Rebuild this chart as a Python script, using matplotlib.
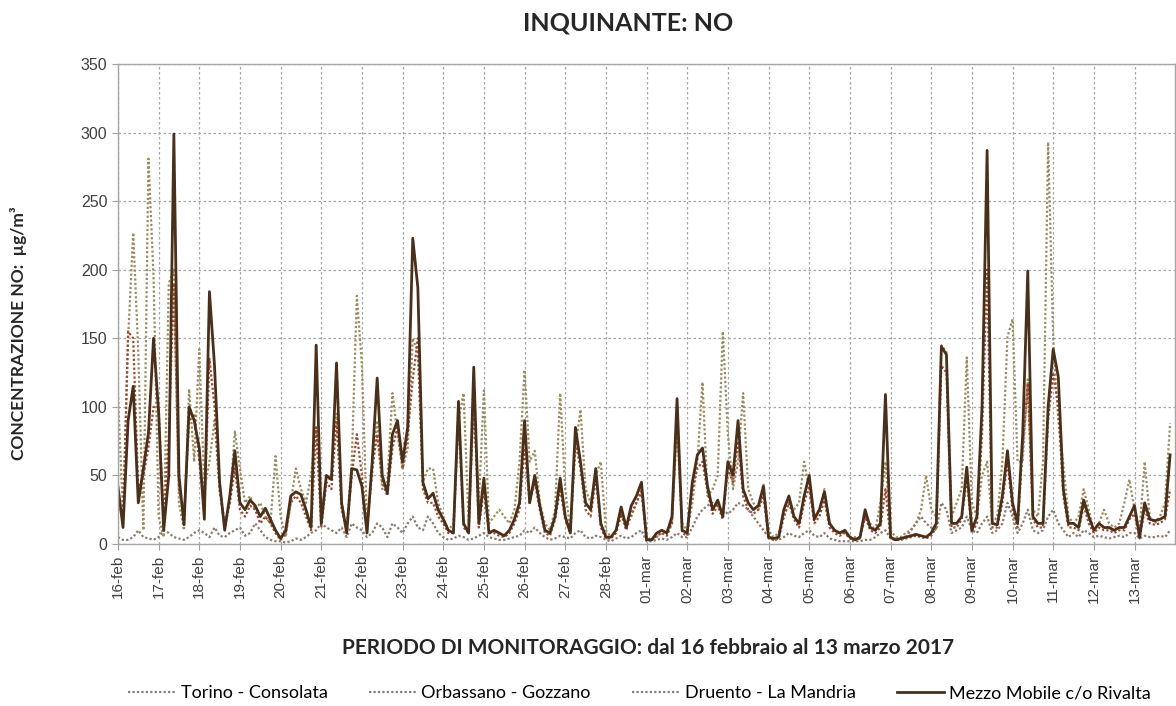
import numpy as np
import matplotlib
matplotlib.use("Agg")
import matplotlib.pyplot as plt

# NO concentration, one value every 3 hours (00,03,...,21), one row per day
day_labels = ["16-feb", "17-feb", "18-feb", "19-feb", "20-feb", "21-feb", "22-feb",
              "23-feb", "24-feb", "25-feb", "26-feb", "27-feb", "28-feb", "01-mar",
              "02-mar", "03-mar", "04-mar", "05-mar", "06-mar", "07-mar", "08-mar",
              "09-mar", "10-mar", "11-mar", "12-mar", "13-mar"]

torino = [
    [110, 20, 150, 227, 140, 10, 281, 195],
    [20, 5, 190, 200, 30, 10, 113, 60],
    [142, 40, 60, 90, 40, 15, 30, 82],
    [55, 30, 35, 25, 30, 20, 15, 64],
    [20, 5, 30, 55, 40, 30, 50, 85],
    [20, 45, 50, 95, 30, 10, 60, 181],
    [130, 15, 50, 90, 40, 45, 110, 80],
    [55, 70, 150, 140, 45, 55, 55, 30],
    [20, 10, 15, 90, 110, 15, 100, 30],
    [112, 15, 20, 25, 20, 15, 25, 60],
    [127, 60, 68, 30, 15, 10, 25, 110],
    [40, 10, 70, 98, 40, 30, 50, 60],
    [10, 5, 10, 20, 15, 20, 30, 40],
    [5, 3, 5, 8, 10, 15, 90, 15],
    [10, 30, 60, 118, 35, 40, 50, 155],
    [80, 40, 60, 110, 40, 30, 25, 44],
    [10, 5, 8, 20, 30, 25, 30, 60],
    [40, 20, 25, 40, 15, 10, 8, 8],
    [5, 5, 5, 20, 15, 10, 30, 60],
    [10, 5, 5, 8, 10, 15, 25, 50],
    [25, 20, 145, 140, 20, 30, 40, 136],
    [30, 20, 50, 60, 15, 20, 60, 151],
    [164, 60, 60, 120, 25, 20, 60, 293],
    [150, 90, 58, 20, 15, 20, 40, 25],
    [10, 15, 25, 15, 12, 15, 30, 47],
    [25, 10, 60, 20, 15, 20, 30, 88],
]

orbassano = [
    [35, 15, 155, 150, 40, 50, 70, 100],
    [100, 15, 80, 190, 40, 20, 90, 95],
    [60, 25, 135, 100, 40, 12, 30, 55],
    [25, 20, 28, 25, 15, 20, 15, 8],
    [3, 8, 30, 35, 30, 20, 10, 85],
    [12, 45, 40, 90, 25, 10, 50, 80],
    [50, 10, 55, 80, 45, 35, 70, 85],
    [55, 80, 120, 150, 40, 30, 30, 20],
    [15, 8, 8, 95, 12, 8, 110, 12],
    [40, 8, 8, 6, 5, 8, 15, 25],
    [70, 30, 45, 25, 8, 6, 18, 40],
    [18, 8, 75, 55, 25, 20, 48, 12],
    [4, 4, 8, 22, 10, 22, 30, 38],
    [3, 3, 6, 8, 6, 15, 90, 8],
    [6, 40, 55, 60, 38, 22, 28, 18],
    [55, 45, 75, 35, 25, 22, 25, 35],
    [4, 3, 4, 20, 30, 18, 12, 30],
    [42, 15, 20, 32, 12, 8, 6, 8],
    [4, 3, 4, 20, 10, 8, 12, 40],
    [4, 3, 3, 4, 5, 6, 5, 4],
    [6, 12, 130, 125, 12, 12, 18, 48],
    [8, 15, 80, 200, 12, 12, 30, 60],
    [25, 12, 70, 117, 18, 12, 12, 90],
    [125, 100, 35, 12, 12, 10, 28, 15],
    [8, 12, 10, 10, 8, 10, 10, 18],
    [22, 4, 25, 15, 14, 15, 18, 40],
]

druento = [
    [5, 3, 3, 5, 10, 5, 4, 3],
    [5, 10, 8, 5, 4, 3, 5, 8],
    [10, 8, 5, 12, 6, 5, 8, 10],
    [12, 6, 8, 15, 10, 5, 3, 2],
    [2, 1, 2, 4, 3, 5, 8, 10],
    [15, 12, 10, 8, 12, 5, 15, 12],
    [10, 5, 8, 15, 12, 5, 15, 12],
    [8, 15, 20, 12, 10, 20, 15, 8],
    [5, 3, 4, 6, 5, 3, 4, 6],
    [8, 5, 4, 3, 3, 4, 5, 6],
    [10, 8, 12, 8, 5, 3, 4, 6],
    [5, 4, 8, 10, 5, 4, 6, 5],
    [3, 2, 4, 6, 4, 5, 8, 10],
    [2, 2, 3, 4, 3, 5, 8, 5],
    [5, 12, 20, 25, 28, 30, 28, 25],
    [22, 25, 30, 28, 25, 20, 15, 10],
    [5, 3, 3, 5, 8, 6, 5, 8],
    [10, 6, 5, 8, 4, 3, 2, 2],
    [2, 2, 2, 3, 3, 5, 8, 10],
    [4, 3, 3, 5, 10, 15, 20, 15],
    [12, 10, 30, 25, 8, 10, 12, 20],
    [10, 8, 15, 20, 8, 10, 15, 30],
    [20, 8, 15, 25, 10, 8, 10, 20],
    [25, 15, 10, 5, 8, 5, 10, 8],
    [5, 6, 5, 4, 5, 6, 5, 8],
    [8, 4, 6, 5, 5, 6, 5, 10],
]

rivalta = [
    [42, 12, 90, 115, 30, 55, 81, 150],
    [96, 10, 50, 299, 50, 14, 100, 90],
    [70, 18, 184, 130, 45, 10, 35, 68],
    [30, 25, 32, 28, 20, 26, 18, 10],
    [4, 10, 35, 38, 36, 25, 12, 145],
    [15, 50, 47, 132, 30, 8, 55, 54],
    [42, 8, 59, 121, 50, 37, 80, 90],
    [60, 85, 223, 187, 45, 33, 37, 25],
    [18, 10, 8, 104, 15, 8, 129, 15],
    [48, 8, 10, 8, 6, 10, 18, 30],
    [90, 30, 50, 28, 10, 8, 20, 48],
    [20, 8, 85, 60, 30, 25, 55, 15],
    [5, 5, 10, 27, 12, 28, 35, 45],
    [3, 3, 8, 10, 8, 20, 106, 10],
    [8, 45, 65, 70, 42, 25, 32, 20],
    [60, 50, 90, 40, 30, 25, 28, 42],
    [5, 4, 5, 25, 35, 20, 15, 35],
    [50, 18, 25, 38, 15, 10, 8, 10],
    [5, 3, 5, 25, 12, 10, 15, 109],
    [5, 3, 4, 5, 6, 7, 6, 5],
    [8, 15, 144, 138, 15, 15, 20, 56],
    [10, 20, 100, 287, 15, 14, 35, 68],
    [30, 15, 80, 199, 20, 15, 15, 100],
    [142, 122, 40, 15, 15, 12, 32, 20],
    [10, 15, 12, 12, 10, 12, 12, 20],
    [28, 5, 30, 18, 17, 18, 20, 65],
]

series = [
    ("Torino - Consolata", torino, "#9c8b5c"),
    ("Orbassano - Gozzano", orbassano, "#a4452e"),
    ("Druento - La Mandria", druento, "#8a7a6c"),
]

n = len(rivalta) * 8
t = np.arange(n) * 3 / 24.0  # days since 16-feb 00:00

plt.rcParams['font.family'] = ['Liberation Sans', 'DejaVu Sans']

fig = plt.figure(figsize=(11.76, 7.06), dpi=100)
ax = fig.add_axes([0.1003, 0.2295, 0.899, 0.6798])

for name, vals, col in series:
    ax.plot(t, np.ravel(vals), color=col, lw=1.6, ls=(0, (1, 1)), label=name)
ax.plot(t, np.ravel(rivalta), color="#4b3019", lw=2.0, label="Mezzo Mobile c/o Rivalta")

ax.set_xlim(0, 26)
ax.set_ylim(0, 350)
ax.set_yticks(np.arange(0, 351, 50))
ax.set_xticks(np.arange(len(day_labels)))
ax.set_xticklabels(day_labels, rotation=90, fontsize=11, color="#404040")
ax.tick_params(axis='y', labelsize=11.5, colors="#404040", length=4, color="#a0a0a0")
ax.tick_params(axis='x', length=4, color="#a0a0a0", pad=4)
ax.grid(True, color="#a6a6a6", ls=(0, (2, 2)), lw=0.9)
ax.set_axisbelow(True)
for s in ax.spines.values():
    s.set_color("#a6a6a6")
    s.set_linewidth(1.0)

fig.text(0.534, 0.968, "INQUINANTE: NO", ha='center', va='center',
         fontsize=18, fontweight='bold', family='Lato', color="#262626")
fig.text(0.016, 0.528, "CONCENTRAZIONE NO:  µg/m³", rotation=90, ha='center', va='center',
         fontsize=12.5, fontweight='bold', family='Lato', color="#262626")
fig.text(0.551, 0.082, "PERIODO DI MONITORAGGIO: dal 16 febbraio al 13 marzo 2017",
         ha='center', va='center', fontsize=15, fontweight='bold', family='Lato', color="#262626")

leg = fig.legend(loc='center', bbox_to_anchor=(0.544, 0.018), ncol=4, frameon=False,
                 prop={'family': 'Lato', 'size': 13}, handlelength=2.6, columnspacing=2.3,
                 handletextpad=0.3)
for h in leg.legend_handles[:3]:
    h.set_color("#7f7f7f")

fig.savefig("out.png", dpi=100)
